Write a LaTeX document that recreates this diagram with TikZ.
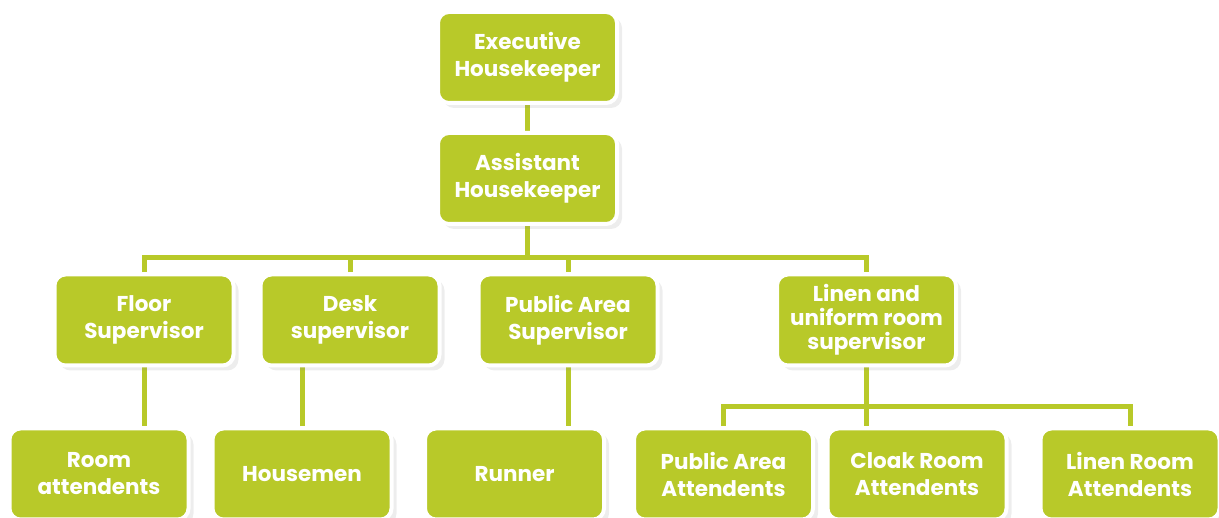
\documentclass[tikz,border=0pt]{standalone}
\usepackage{fontspec}
\setmainfont{Poppins}
\usetikzlibrary{shadows,backgrounds}
\definecolor{lime}{RGB}{184,201,41}
\tikzset{
  x=1pt, y=-1pt,
  box/.style={draw=white, line width=4pt, fill=lime, rounded corners=11pt,
    minimum width=179pt, minimum height=91pt, inner sep=0pt,
    align=center, text=white, font=\fontsize{21.5}{27}\selectfont\bfseries,
    drop shadow={opacity=0.14, shadow xshift=5pt, shadow yshift=-5pt}},
  conn/.style={draw=lime, line width=5pt}
}
\begin{document}
\begin{tikzpicture}
\useasboundingbox (0,0) rectangle (1219,518);
\node[box] (exec) at (527.5,57.5) {Executive\\Housekeeper};
\node[box] (asst) at (527.5,178.5) {Assistant\\Housekeeper};
\node[box] (floor) at (144,320) {Floor\\Supervisor};
\node[box] (desk) at (350,320) {Desk\\supervisor};
\node[box] (pub) at (568,320) {Public Area\\Supervisor};
\node[box, font=\fontsize{21.5}{24}\selectfont\bfseries] (lsup) at (866.5,320) {Linen and\\uniform room\\supervisor};
\node[box] (room) at (99,474) {Room\\attendents};
\node[box] (hm) at (302,474) {Housemen};
\node[box] (run) at (514.5,474) {Runner};
\node[box] (paa) at (723.5,474) {Public Area\\Attendents};
\node[box] (cra) at (917,474) {Cloak Room\\Attendents};
\node[box] (lra) at (1130,474) {Linen Room\\Attendents};
\coordinate (b1) at (527.5,258);
\coordinate (b2) at (866,407);
\begin{pgfonlayer}{background}
\draw[conn] (exec.south) -- (asst.north);
\draw[conn] (asst.south) -- (b1);
\draw[conn] (floor.north) |- (b1) -| (lsup.north);
\draw[conn] (desk.north) -- (desk.north |- b1);
\draw[conn] (pub.north) -- (pub.north |- b1);
\draw[conn] (floor.south) -- (floor.south |- room.north);
\draw[conn] (hm.north) -- (hm.north |- desk.south);
\draw[conn] (pub.south) -- (pub.south |- run.north);
\draw[conn] (lsup.south) -- (lsup.south |- cra.north);
\draw[conn] (paa.north) |- (b2) -| (lra.north);
\end{pgfonlayer}
\end{tikzpicture}
\end{document}
